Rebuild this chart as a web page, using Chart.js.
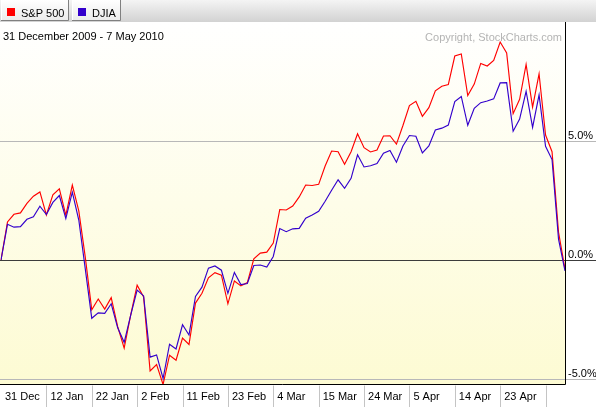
<!DOCTYPE html>
<html lang="en">
<head>
  <meta charset="UTF-8">
  <title>S&amp;P 500 vs DJIA</title>
  <script src="https://cdn.jsdelivr.net/npm/chart.js"></script>
  <style>
    body {
      margin: 0;
      padding: 0;
      background: #fff;
    }
    #wrap {
      width: 596px;
      height: 407px;
    }
  </style>
</head>
<body>
  <div id="wrap">
    <canvas id="perfChart" width="596" height="407"></canvas>
  </div>

  <script>
    // trading days, 31 Dec 2009 - 7 May 2010
    const tradingDays = [
      '31 Dec',
      '4 Jan', '5 Jan', '6 Jan', '7 Jan', '8 Jan', '11 Jan', '12 Jan', '13 Jan', '14 Jan', '15 Jan',
      '19 Jan', '20 Jan', '21 Jan', '22 Jan', '25 Jan', '26 Jan', '27 Jan', '28 Jan', '29 Jan',
      '1 Feb', '2 Feb', '3 Feb', '4 Feb', '5 Feb', '8 Feb', '9 Feb', '10 Feb', '11 Feb', '12 Feb',
      '16 Feb', '17 Feb', '18 Feb', '19 Feb', '22 Feb', '23 Feb', '24 Feb', '25 Feb', '26 Feb',
      '1 Mar', '2 Mar', '3 Mar', '4 Mar', '5 Mar', '8 Mar', '9 Mar', '10 Mar', '11 Mar', '12 Mar',
      '15 Mar', '16 Mar', '17 Mar', '18 Mar', '19 Mar', '22 Mar', '23 Mar', '24 Mar', '25 Mar', '26 Mar',
      '29 Mar', '30 Mar', '31 Mar', '1 Apr', '5 Apr', '6 Apr', '7 Apr', '8 Apr', '9 Apr',
      '12 Apr', '13 Apr', '14 Apr', '15 Apr', '16 Apr', '19 Apr', '20 Apr', '21 Apr', '22 Apr', '23 Apr',
      '26 Apr', '27 Apr', '28 Apr', '29 Apr', '30 Apr', '3 May', '4 May', '5 May', '6 May', '7 May'
    ];

    // % change since 31 Dec 2009
    const spx = [
      0,
      1.60, 1.92, 1.98, 2.38, 2.68, 2.86, 1.89, 2.74, 2.99, 1.88,
      3.15, 2.06, 0.12, -2.09, -1.64, -2.06, -1.58, -2.80, -3.70,
      -2.32, -1.06, -1.55, -4.66, -4.39, -5.23, -4.00, -4.21, -3.28, -3.55,
      -1.81, -1.40, -0.75, -0.53, -0.64, -1.84, -0.88, -1.09, -0.95,
      0.05, 0.29, 0.33, 0.71, 2.12, 2.10, 2.27, 2.65, 3.15, 3.13,
      3.18, 3.95, 4.58, 4.55, 4.02, 4.55, 5.30, 4.72, 4.54, 4.62,
      5.21, 5.22, 4.87, 5.65, 6.49, 6.67, 6.04, 6.40, 7.11,
      7.30, 7.37, 8.57, 8.66, 6.91, 7.39, 8.26, 8.15, 8.39, 9.16,
      8.70, 6.15, 6.75, 8.22, 6.42, 7.82, 5.25, 4.55, 1.17, -0.38
    ];

    const djia = [
      0,
      1.50, 1.38, 1.40, 1.71, 1.82, 2.26, 1.91, 2.42, 2.71, 1.74,
      2.85, 1.68, -0.37, -2.45, -2.22, -2.24, -1.84, -2.85, -3.46,
      -2.33, -1.26, -1.51, -4.08, -3.99, -4.98, -3.54, -3.74, -2.72, -3.15,
      -1.53, -1.14, -0.34, -0.25, -0.43, -1.40, -0.52, -1.03, -0.99,
      -0.23, -0.21, -0.30, 0.15, 1.32, 1.19, 1.31, 1.33, 1.76, 1.89,
      2.05, 2.47, 2.93, 3.37, 3.01, 3.43, 4.42, 3.91, 3.96, 4.05,
      4.49, 4.60, 4.11, 4.79, 5.23, 5.20, 4.50, 4.79, 5.46,
      5.54, 5.67, 6.66, 6.87, 5.66, 6.37, 6.61, 6.68, 6.77, 7.44,
      7.45, 5.41, 5.92, 7.09, 5.57, 6.94, 4.78, 4.22, 0.88, -0.46
    ];

    // labels shown under the chart, and separators every 7 trading days
    const xTickLabels = ['31 Dec', '12 Jan', '22 Jan', '2 Feb', '11 Feb', '23 Feb', '4 Mar', '15 Mar', '24 Mar', '5 Apr', '14 Apr', '23 Apr'];
    const xSeparators = ['12 Jan', '22 Jan', '2 Feb', '11 Feb', '23 Feb', '4 Mar', '15 Mar', '24 Mar', '5 Apr', '14 Apr', '23 Apr', '4 May'];
    const yTicks = [-5, 0, 5];
    const yTickLabels = ['-5.0%', '0.0%', '5.0%'];

    const series = [
      { name: 'S&P 500', values: spx, color: '#ff0000' },
      { name: 'DJIA', values: djia, color: '#3300cc' }
    ];

    const FONT = '11px "Liberation Sans", Arial, sans-serif';

    const decor = {
      id: 'decor',
      beforeDraw(chart) {
        const { ctx, chartArea: a, width } = chart;
        ctx.save();
        ctx.fillStyle = '#ffffff';
        ctx.fillRect(0, 0, width, chart.height);

        // header strip
        let g = ctx.createLinearGradient(0, 0, 0, 22);
        g.addColorStop(0, '#f4f4f4');
        g.addColorStop(1, '#d2d2d2');
        ctx.fillStyle = g;
        ctx.fillRect(0, 0, width, 22);

        // legend tabs
        ctx.font = FONT;
        let x = 1;
        series.forEach(s => {
          const w = Math.round(ctx.measureText(s.name).width) + 25;
          const bg = ctx.createLinearGradient(0, 0, 0, 20);
          bg.addColorStop(0, '#ffffff');
          bg.addColorStop(1, '#ececec');
          ctx.fillStyle = bg;
          ctx.fillRect(x, 0, w, 20);
          ctx.strokeStyle = '#808080';
          ctx.lineWidth = 1;
          ctx.beginPath();
          ctx.moveTo(x + w - 0.5, 0);
          ctx.lineTo(x + w - 0.5, 20.5);
          ctx.lineTo(x, 20.5);
          ctx.stroke();
          ctx.strokeStyle = '#ffffff';
          ctx.beginPath();
          ctx.moveTo(x + 0.5, 20);
          ctx.lineTo(x + 0.5, 0);
          ctx.stroke();
          ctx.fillStyle = s.color;
          ctx.fillRect(x + 6, 8, 8, 8);
          ctx.fillStyle = '#000';
          ctx.textBaseline = 'alphabetic';
          ctx.textAlign = 'left';
          ctx.fillText(s.name, x + 20, 17);
          x += w + 3;
        });

        // plot background
        g = ctx.createLinearGradient(0, a.top, 0, a.bottom);
        g.addColorStop(0, '#ffffff');
        g.addColorStop(1, '#fdfbd3');
        ctx.fillStyle = g;
        ctx.fillRect(0, a.top, a.right, a.bottom - a.top);

        // horizontal grid lines, running under the right-hand labels too
        const yScale = chart.scales.y;
        yTicks.forEach(v => {
          const py = Math.round(yScale.getPixelForValue(v)) + 0.5;
          ctx.strokeStyle = v === 0 ? '#3c3c3c' : '#b8b8b8';
          ctx.beginPath();
          ctx.moveTo(0, py);
          ctx.lineTo(width, py);
          ctx.stroke();
        });
        ctx.restore();
      },
      afterDraw(chart) {
        const { ctx, chartArea: a, width, height } = chart;
        const xScale = chart.scales.x;
        const yScale = chart.scales.y;
        ctx.save();
        ctx.font = FONT;

        // title and copyright
        ctx.fillStyle = '#000';
        ctx.textAlign = 'left';
        ctx.textBaseline = 'alphabetic';
        ctx.fillText('31 December 2009 - 7 May 2010', 3, 40);
        ctx.fillStyle = '#b4b4b4';
        ctx.textAlign = 'right';
        ctx.fillText('Copyright, StockCharts.com', a.right - 3, 41);

        // plot frame: right and bottom edges
        ctx.strokeStyle = '#000';
        ctx.lineWidth = 1;
        const rx = Math.round(a.right) + 0.5;
        const by = Math.round(a.bottom) + 0.5;
        ctx.beginPath();
        ctx.moveTo(rx, a.top);
        ctx.lineTo(rx, by);
        ctx.lineTo(0, by);
        ctx.stroke();

        // y labels
        ctx.fillStyle = '#000';
        ctx.textAlign = 'left';
        yTicks.forEach((v, i) => {
          const py = yScale.getPixelForValue(v);
          ctx.fillText(yTickLabels[i], rx + 2.5, py - 2);
        });

        // x label cells
        ctx.strokeStyle = '#c4c4c4';
        xSeparators.forEach(d => {
          const px = Math.round(xScale.getPixelForValue(tradingDays.indexOf(d))) + 0.5;
          ctx.beginPath();
          ctx.moveTo(px, by + 1);
          ctx.lineTo(px, height);
          ctx.stroke();
        });
        ctx.fillStyle = '#000';
        xTickLabels.forEach(d => {
          const px = xScale.getPixelForValue(tradingDays.indexOf(d));
          ctx.fillText(d, px + 4, 400);
        });
        ctx.restore();
      }
    };

    const ctx = document.getElementById('perfChart').getContext('2d');

    const perfChart = new Chart(ctx, {
      type: 'line',
      data: {
        labels: tradingDays,
        datasets: series.map((s, i) => ({
          label: s.name,
          data: s.values,
          borderColor: s.color,
          borderWidth: 1.15,
          pointRadius: 0,
          tension: 0,
          fill: false,
          order: i === 0 ? 2 : 1
        }))
      },
      options: {
        responsive: false,
        animation: false,
        devicePixelRatio: 1,
        layout: {
          padding: { left: 1, right: 31, top: 22, bottom: 23 }
        },
        plugins: {
          legend: { display: false },
          tooltip: { enabled: false }
        },
        scales: {
          x: {
            display: false,
            offset: false
          },
          y: {
            display: false,
            min: -5.21,
            max: 10
          }
        }
      },
      plugins: [decor]
    });
  </script>
</body>
</html>
